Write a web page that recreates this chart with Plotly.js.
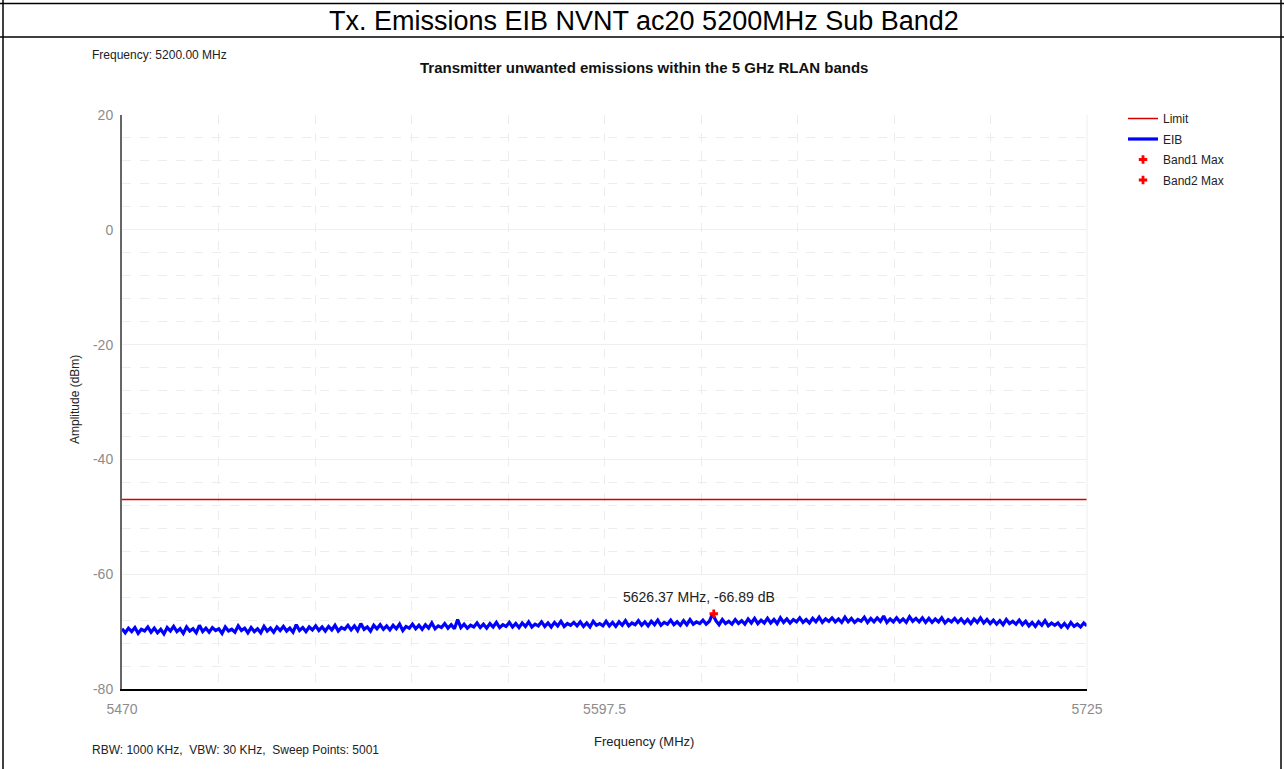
<!DOCTYPE html>
<html>
<head>
<meta charset="utf-8">
<script src="https://cdn.plot.ly/plotly-3.0.1.min.js"></script>
<style>html,body{margin:0;padding:0;background:#fff;}#chart{width:1284px;height:769px;}</style>
</head>
<body>
<div id="chart"></div>
<script>
// ---- data ----
const pageTitle = "Tx. Emissions EIB NVNT ac20 5200MHz Sub Band2";
const chartTitle = "Transmitter unwanted emissions within the 5 GHz RLAN bands";
const freqInfo = "Frequency: 5200.00 MHz";
const sweepInfo = "RBW: 1000 KHz,  VBW: 30 KHz,  Sweep Points: 5001";
const freqStart = 5470;
const freqStop = 5725;
const xTickVals = [5470, 5597.5, 5725];
const xTickText = ["5470", "5597.5", "5725"];
const yTickVals = [-80, -60, -40, -20, 0, 20];
const yTickText = ["-80", "-60", "-40", "-20", "0", "20"];
const limitFreq = [5470, 5725];
const limitLevel = [-47, -47];
const band2MaxFreq = [5626.37];
const band2MaxLevel = [-66.89];
const band2Label = "5626.37 MHz, -66.89 dB";
// EIB trace (300 samples across the span)
const eibLevel = [
-69.5,-70.2,-69.4,-70.0,-69.3,-70.3,-69.6,-69.9,-69.2,-70.1,
-69.4,-70.2,-69.6,-70.4,-69.3,-69.9,-69.1,-70.0,-69.5,-70.3,
-69.2,-69.9,-69.5,-70.2,-68.9,-70.0,-69.4,-70.1,-69.3,-69.8,
-69.5,-70.3,-69.2,-69.9,-69.6,-70.1,-69.0,-69.8,-69.4,-70.2,
-69.3,-70.0,-69.5,-70.2,-69.1,-69.9,-69.4,-70.1,-69.2,-69.8,
-69.1,-69.9,-69.4,-70.1,-68.8,-69.8,-69.3,-70.0,-69.2,-69.7,
-69.0,-69.8,-69.2,-69.9,-69.1,-69.7,-68.9,-69.9,-69.3,-69.6,
-68.9,-69.7,-69.0,-69.8,-68.6,-69.6,-69.2,-69.9,-68.9,-69.5,
-68.8,-69.6,-69.0,-69.7,-68.9,-69.5,-68.7,-69.8,-69.1,-69.4,
-68.7,-69.5,-68.9,-69.6,-68.8,-69.4,-68.5,-69.5,-69.0,-69.3,
-68.6,-69.4,-68.8,-69.5,-67.9,-69.3,-68.7,-69.4,-68.9,-69.2,
-68.5,-69.3,-68.7,-69.4,-68.6,-69.2,-68.4,-69.3,-68.8,-69.1,
-68.4,-69.2,-68.6,-69.3,-68.5,-69.1,-68.3,-69.2,-68.7,-69.0,
-68.3,-69.1,-68.5,-69.2,-68.4,-69.0,-68.2,-69.1,-68.6,-68.9,
-68.4,-69.0,-68.3,-69.1,-68.5,-69.2,-68.2,-68.9,-68.6,-69.0,
-68.2,-69.0,-68.4,-69.1,-68.3,-68.9,-68.1,-69.0,-68.5,-68.8,
-68.1,-68.9,-68.3,-69.0,-68.2,-68.8,-68.0,-68.9,-68.4,-68.7,
-68.0,-68.8,-68.3,-68.9,-68.1,-68.8,-67.9,-68.7,-68.3,-68.6,
-68.0,-68.7,-68.2,-66.89,-68.1,-68.8,-67.9,-68.6,-68.2,-68.7,
-67.9,-68.6,-68.1,-68.7,-67.8,-68.5,-67.7,-68.6,-68.0,-68.5,
-67.7,-68.5,-67.9,-68.6,-67.6,-68.4,-67.8,-68.5,-67.9,-68.3,
-67.6,-68.4,-67.9,-68.5,-67.7,-68.3,-67.5,-68.4,-67.8,-68.2,
-67.6,-68.3,-67.8,-68.4,-67.5,-68.3,-67.7,-68.4,-67.9,-68.2,
-67.5,-68.4,-67.7,-68.3,-67.6,-68.2,-67.3,-68.4,-67.8,-68.3,
-67.6,-68.3,-67.8,-68.4,-67.4,-68.2,-67.7,-68.3,-67.6,-68.4,
-67.7,-68.4,-67.8,-68.3,-67.6,-68.5,-67.9,-68.3,-67.7,-68.4,
-67.8,-68.5,-67.9,-68.6,-67.8,-68.4,-67.6,-68.5,-67.9,-68.6,
-68.0,-68.7,-68.1,-68.8,-67.9,-68.6,-68.2,-68.7,-68.0,-68.8,
-68.2,-69.0,-68.4,-69.1,-68.3,-68.9,-68.1,-69.0,-68.5,-68.9,
-68.5,-69.2,-68.6,-69.3,-68.4,-69.1,-68.7,-69.2,-68.5,-69.0
];
// sweep frequency grid
const eibFreq = eibLevel.map((_, i) => freqStart + i * (freqStop - freqStart) / (eibLevel.length - 1));

// ---- layout helpers (pixel -> paper) ----
const L = 122, R = 1087, T = 115, B = 689;
const px = x => (x - L) / (R - L);
const py = y => (B - y) / (B - T);

const font = "Liberation Sans, Arial, sans-serif";

const traces = [
  {x: limitFreq, y: limitLevel, name: "Limit", legendgroup: "a", type: "scatter", mode: "lines",
   line: {color: "#d40000", width: 1.5}},
  {x: eibFreq, y: eibLevel, name: "EIB", legendgroup: "b", type: "scatter", mode: "lines",
   line: {color: "#0000ff", width: 3.2, simplify: false}},
  {x: [null], y: [null], name: "Band1 Max", legendgroup: "c", type: "scatter", mode: "markers",
   marker: {color: "#ff0000", symbol: "cross", size: 7}},
  {x: band2MaxFreq, y: band2MaxLevel, name: "Band2 Max", legendgroup: "d", type: "scatter", mode: "markers",
   marker: {color: "#ff0000", symbol: "cross", size: 7}}
];

const layout = {
  width: 1284, height: 769,
  margin: {l: L, r: 1284 - R, t: T, b: 769 - B},
  paper_bgcolor: "#ffffff", plot_bgcolor: "#ffffff",
  font: {family: font, size: 12, color: "#222"},
  showlegend: true,
  legend: {x: px(1123), y: py(104), xanchor: "left", yanchor: "top", tracegroupgap: 1.5,
           font: {family: font, size: 12, color: "#222"}, bgcolor: "rgba(0,0,0,0)", borderwidth: 0},
  xaxis: {range: [freqStart, freqStop], tickvals: xTickVals, ticktext: xTickText,
          showgrid: true, gridcolor: "#ececec", griddash: "dash", gridwidth: 1,
          zeroline: false, showline: true, linecolor: "#000", linewidth: 1.5,
          ticks: "", ticklabelstandoff: 7,
          tickfont: {family: font, size: 14, color: "#8c8c8c"},
          minor: {tick0: freqStart, dtick: 25.5, showgrid: true, gridcolor: "#ececec", griddash: "dash", gridwidth: 1, ticks: ""}},
  yaxis: {range: [-80, 20], tickvals: yTickVals, ticktext: yTickText,
          showgrid: true, gridcolor: "#efefef", gridwidth: 1,
          zeroline: false, showline: true, linecolor: "#666", linewidth: 2,
          ticks: "", ticklabelstandoff: 4,
          tickfont: {family: font, size: 14, color: "#8c8c8c"},
          minor: {tick0: -80, dtick: 4, showgrid: true, gridcolor: "#ededed", griddash: "dash", gridwidth: 1, ticks: ""}},
  shapes: [
    {type: "line", xref: "paper", yref: "paper", x0: px(0), x1: px(1284), y0: py(3.5), y1: py(3.5), line: {color: "#000", width: 1.5}},
    {type: "line", xref: "paper", yref: "paper", x0: px(0), x1: px(1284), y0: py(37), y1: py(37), line: {color: "#000", width: 1.5}},
    {type: "line", xref: "paper", yref: "paper", x0: px(3), x1: px(3), y0: py(0), y1: py(769), line: {color: "#000", width: 1.5}},
    {type: "line", xref: "paper", yref: "paper", x0: px(1281), x1: px(1281), y0: py(0), y1: py(769), line: {color: "#000", width: 1.5}},
    {type: "line", xref: "paper", yref: "paper", x0: 1, x1: 1, y0: 0, y1: 1, line: {color: "#eeeeee", width: 1}}
  ],
  annotations: [
    {text: pageTitle, xref: "paper", yref: "paper", x: px(644), y: py(21), xanchor: "center", yanchor: "middle",
     showarrow: false, font: {family: font, size: 27, color: "#000"}},
    {text: "<b>" + chartTitle + "</b>", xref: "paper", yref: "paper", x: px(644), y: py(68), xanchor: "center", yanchor: "middle",
     showarrow: false, font: {family: font, size: 15, color: "#111"}},
    {text: freqInfo, xref: "paper", yref: "paper", x: px(90), y: py(55), xanchor: "left", yanchor: "middle",
     showarrow: false, font: {family: font, size: 12, color: "#222"}},
    {text: sweepInfo, xref: "paper", yref: "paper", x: px(90), y: py(750), xanchor: "left", yanchor: "middle",
     showarrow: false, font: {family: font, size: 12, color: "#222"}},
    {text: "Frequency (MHz)", xref: "paper", yref: "paper", x: px(644), y: py(741), xanchor: "center", yanchor: "middle",
     showarrow: false, font: {family: font, size: 13, color: "#222"}},
    {text: "Amplitude (dBm)", xref: "paper", yref: "paper", x: px(75), y: py(400), xanchor: "center", yanchor: "middle",
     textangle: -90, showarrow: false, font: {family: font, size: 12, color: "#222"}},
    {text: band2Label, xref: "x", yref: "y", x: band2MaxFreq[0], y: band2MaxLevel[0], ax: -15, ay: -17,
     xanchor: "center", yanchor: "middle", showarrow: true, arrowcolor: "rgba(0,0,0,0)", arrowwidth: 0.1,
     font: {family: font, size: 14, color: "#222"}}
  ]
};

Plotly.newPlot("chart", traces, layout, {displayModeBar: false, staticPlot: true});
</script>
</body>
</html>
